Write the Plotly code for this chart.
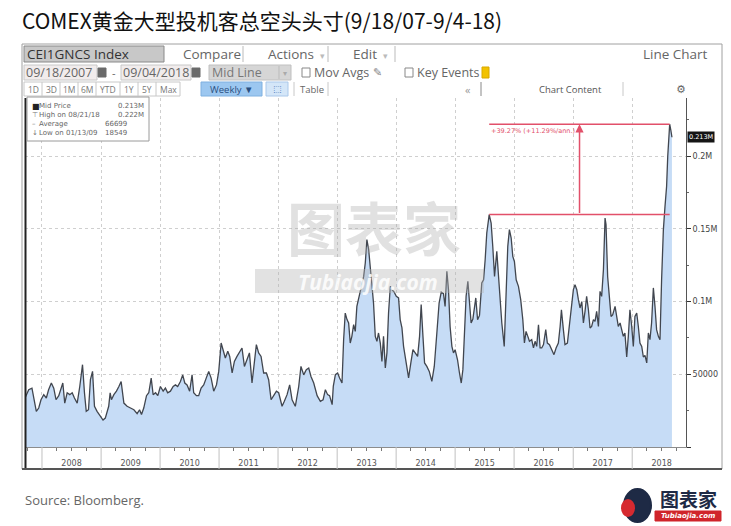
import plotly.graph_objects as go

# ---------------- data ----------------
DATES = [
"2007-09-18","2007-10-11","2007-10-31","2007-11-15","2007-11-27","2007-12-12","2007-12-26",
"2008-01-12","2008-01-28","2008-02-11","2008-02-28","2008-03-14","2008-03-28","2008-04-14","2008-04-24",
"2008-05-09","2008-05-21","2008-06-05","2008-06-21","2008-07-06","2008-07-20","2008-08-06","2008-08-22",
"2008-09-08","2008-09-20","2008-10-01","2008-10-15","2008-10-27","2008-11-09","2008-11-21","2008-12-07",
"2009-01-13","2009-01-27","2009-02-08","2009-02-17","2009-02-26","2009-03-06","2009-03-21","2009-04-06",
"2009-04-21","2009-05-05","2009-05-22","2009-06-11","2009-07-02","2009-07-23","2009-08-12","2009-08-27",
"2009-09-08","2009-09-22","2009-10-09","2009-10-23","2009-11-07","2009-11-19","2009-12-04","2009-12-18",
"2010-01-03","2010-01-20","2010-02-03","2010-02-17","2010-03-06","2010-03-23","2010-04-06","2010-04-20",
"2010-05-07","2010-05-21","2010-06-03","2010-06-17","2010-07-03","2010-07-18","2010-07-28","2010-08-14",
"2010-08-28","2010-09-12","2010-09-28","2010-10-15","2010-10-29","2010-11-13","2010-11-29","2010-12-16",
"2010-12-30","2011-01-14","2011-01-26","2011-02-09","2011-02-24","2011-03-08","2011-03-23","2011-04-06",
"2011-04-22","2011-05-09","2011-05-23","2011-06-07","2011-06-23","2011-07-08","2011-07-24","2011-08-08",
"2011-08-20","2011-09-03","2011-09-18","2011-10-04","2011-10-21","2011-11-04","2011-11-19","2011-12-05",
"2011-12-22","2012-01-05","2012-01-26","2012-02-09","2012-02-26","2012-03-13","2012-03-28","2012-04-17",
"2012-05-08","2012-05-22","2012-06-08","2012-06-24","2012-07-09","2012-07-23","2012-08-09","2012-08-30",
"2012-09-19","2012-10-06","2012-10-20","2012-11-03","2012-11-15","2012-12-01","2012-12-08","2012-12-21",
"2013-01-04","2013-01-16","2013-01-31","2013-02-10","2013-02-20","2013-03-03","2013-03-13","2013-03-23",
"2013-04-02","2013-04-13","2013-04-23","2013-05-03","2013-05-20","2013-06-03","2013-06-14","2013-06-24",
"2013-07-04","2013-07-15","2013-07-25","2013-08-04","2013-08-14","2013-08-25","2013-09-04","2013-09-14",
"2013-09-25","2013-10-05","2013-10-15","2013-10-26","2013-11-05","2013-11-15","2013-11-26","2013-12-06",
"2013-12-20","2014-01-02","2014-01-16","2014-01-26","2014-02-06","2014-02-16","2014-03-03","2014-03-19",
"2014-04-02","2014-04-15","2014-04-29","2014-05-14","2014-05-26","2014-06-05","2014-06-16","2014-06-26",
"2014-07-10","2014-07-25","2014-08-10","2014-08-25","2014-09-10","2014-09-24","2014-10-07","2014-10-21",
"2014-10-31","2014-11-11","2014-11-21","2014-12-01","2014-12-12","2014-12-22","2015-01-01","2015-01-16",
"2015-01-28","2015-02-08","2015-02-18","2015-02-28","2015-03-10","2015-03-21","2015-03-31","2015-04-10",
"2015-04-21","2015-05-01","2015-05-09","2015-05-20","2015-06-01","2015-06-15","2015-06-26","2015-07-06",
"2015-07-16","2015-07-31","2015-08-12","2015-08-22","2015-09-02","2015-09-16","2015-09-26","2015-10-07",
"2015-10-17","2015-11-01","2015-11-13","2015-11-23","2015-12-03","2015-12-14","2015-12-24","2016-01-03",
"2016-01-14","2016-01-28","2016-02-11","2016-02-24","2016-03-05","2016-03-15","2016-03-26","2016-04-05",
"2016-04-19","2016-04-30","2016-05-10","2016-05-20","2016-05-31","2016-06-10","2016-06-20","2016-07-01",
"2016-07-15","2016-07-25","2016-08-07","2016-08-21","2016-09-04","2016-09-17","2016-10-01","2016-10-12",
"2016-10-20","2016-11-01","2016-11-11","2016-11-26","2016-12-08","2016-12-21","2017-01-02","2017-01-12",
"2017-01-23","2017-02-02","2017-02-12","2017-02-23","2017-03-05","2017-03-15","2017-03-25","2017-04-05",
"2017-04-15","2017-04-25","2017-05-06","2017-05-16","2017-05-26","2017-06-06","2017-06-16","2017-06-26",
"2017-07-07","2017-07-17","2017-07-23","2017-08-02","2017-08-13","2017-08-23","2017-09-02","2017-09-17",
"2017-09-27","2017-10-07","2017-10-18","2017-10-28","2017-11-07","2017-11-17","2017-11-28","2017-12-08",
"2017-12-18","2017-12-29","2018-01-08","2018-01-18","2018-01-29","2018-02-08","2018-02-18","2018-03-01",
"2018-03-11","2018-03-21","2018-04-01","2018-04-11","2018-04-21","2018-05-01","2018-05-12","2018-05-22",
"2018-06-01","2018-06-12","2018-06-22","2018-07-02","2018-07-13","2018-07-23","2018-08-02","2018-08-09",
"2018-08-14","2018-08-21","2018-08-28","2018-09-04"]

VALUES_K = [
33.7,39.4,40.5,32.5,24.5,26.8,32.5,
36.0,33.7,39.4,44.0,40.5,32.5,35.3,38.4,
44.0,30.2,37.3,36.0,37.3,33.7,30.2,41.6,
56.6,37.3,24.5,25.6,46.3,52.0,28.0,24.5,
18.549,19.9,24.5,28.0,37.3,32.5,36.0,38.4,
41.6,45.0,30.2,28.0,26.8,25.6,23.0,25.6,
22.3,26.8,35.3,37.3,47.4,36.0,37.3,35.3,
41.6,38.4,40.5,37.3,38.4,41.6,42.7,41.6,
45.0,49.6,44.0,42.7,38.4,49.6,37.3,35.3,
35.3,40.5,42.7,48.5,52.0,47.4,38.4,42.7,
52.0,71.5,66.9,61.2,65.8,62.3,50.9,58.9,
62.3,65.8,68.1,55.4,60.0,64.7,44.0,60.0,
70.4,64.7,62.3,50.9,50.9,46.3,32.5,35.3,
38.4,37.3,28.0,31.4,36.0,42.7,32.5,28.0,
41.6,55.4,49.6,53.1,54.3,48.5,44.0,35.3,
31.4,32.5,39.4,36.0,35.3,29.1,41.7,49.7,
50.9,47.4,44.0,73.8,92.1,87.6,85.3,71.5,
76.1,84.1,79.5,96.7,104.8,112.8,117.3,126.5,
142.6,135.7,124.2,115.0,99.0,76.1,72.7,78.4,
71.5,58.9,76.1,54.3,64.7,92.1,110.5,108.2,
106.5,103.6,102.5,87.6,81.9,69.2,58.9,47.5,
57.8,66.9,64.7,62.3,76.1,97.9,76.1,57.8,
55.4,52.0,45.1,55.4,78.4,99.0,106.5,105.4,
96.7,120.8,108.2,82.9,69.2,64.7,66.9,60.0,
50.9,44.0,53.2,76.1,103.6,113.9,96.7,85.3,
88.0,95.6,102.5,87.6,90.5,112.8,115.0,128.8,
147.2,159.8,154.0,138.0,117.3,134.5,117.3,101.3,
85.3,69.2,103.6,138.0,149.5,143.7,131.1,127.6,
115.0,110.5,101.3,87.6,71.5,79.5,76.1,72.7,
73.8,68.1,72.7,69.2,84.1,68.1,68.1,70.4,
80.7,71.5,70.4,66.9,63.5,68.1,71.5,82.9,
94.4,80.7,70.4,71.5,82.9,96.7,108.2,111.6,
108.2,101.3,95.6,100.0,85.3,93.3,103.6,94.4,
81.8,82.9,87.6,86.4,93.3,82.9,107.0,103.6,
122.0,157.5,152.9,117.3,101.3,89.8,90.9,96.7,
89.8,82.9,85.3,79.5,76.1,78.4,61.9,76.1,
94.4,82.9,69.2,89.8,92.1,82.9,71.5,69.2,
61.9,63.0,57.8,78.4,73.8,85.3,109.4,96.7,
80.7,76.1,73.8,115.0,149.5,165.5,179.3,200.0,
212.0,222.0,218.0,213.0]

VALUES = [v * 1000 for v in VALUES_K]

YEARS = list(range(2008, 2019))
Y_TICKS = [0, 50000, 100000, 150000, 200000]
Y_LABELS = ["", "50000", "0.1M", "0.15M", "0.2M"]

TITLE = "COMEX黄金大型投机客总空头头寸(9/18/07-9/4-18)"
SOURCE = "Source: Bloomberg."
CHANGE_LABEL = "+39.27% (+11.29%/ann.)"
AVERAGE_LABEL = "66699"

# ---------------- layout geometry (pixels) ----------------
FW, FH = 731, 526
L, R, T, B = 25, 686, 98, 447
W, H = R - L, B - T
def px(x): return (x - L) / W
def py(y): return (B - y) / H

UI = "Open Sans"
fig = go.Figure()
fig.add_trace(go.Scatter(x=DATES, y=VALUES, mode="lines",
                         line=dict(color="#41464f", width=1.3),
                         fill="tozeroy", fillcolor="#c6dcf6", hoverinfo="skip"))

shapes = []
ann = []
def rect(x0, y0, x1, y1, fill="rgba(0,0,0,0)", line="#999", lw=1, layer="above"):
    shapes.append(dict(type="rect", xref="paper", yref="paper", x0=px(x0), x1=px(x1),
                       y0=py(y1), y1=py(y0), fillcolor=fill, line=dict(color=line, width=lw), layer=layer))
def hline(x0, x1, y, color="#bbb", lw=1):
    shapes.append(dict(type="line", xref="paper", yref="paper", x0=px(x0), x1=px(x1),
                       y0=py(y), y1=py(y), line=dict(color=color, width=lw)))
def vline(x, y0, y1, color="#bbb", lw=1):
    shapes.append(dict(type="line", xref="paper", yref="paper", x0=px(x), x1=px(x),
                       y0=py(y0), y1=py(y1), line=dict(color=color, width=lw)))
def text(x, y, s, size=12, color="#555", anchor="left", family=UI, **kw):
    ann.append(dict(xref="paper", yref="paper", x=px(x), y=py(y), text=s, showarrow=False,
                    xanchor=anchor, yanchor="middle", font=dict(size=size, color=color, family=family), **kw))

# title
text(20, 20, TITLE, size=21, color="#111", family="Noto Sans CJK SC")

# frame
rect(22, 44, 722, 469, line="#a0a0a0")
vline(25.5, 98, 469, color="#222", lw=2)
hline(22, 722, 469, color="#555", lw=2)

# toolbar row 1
rect(24, 46, 164, 62, fill="#c8c8c8", line="#8a8a8a")
text(25, 54.5, "CEI1GNCS Index", size=13.5, color="#333")
text(212, 54.5, "Compare", size=13.5, color="#666", anchor="center")
vline(243, 46, 62); vline(328, 46, 62); vline(395, 46, 62)
text(266, 54.5, "Actions", size=13.5, color="#666")
text(322, 55, "▾", size=9, color="#bbb", anchor="center")
text(351, 54.5, "Edit", size=13.5, color="#666")
text(385, 55, "▾", size=9, color="#bbb", anchor="center")
text(710, 54.5, "Line Chart", size=13.5, color="#666", anchor="right")

# toolbar row 2
rect(24, 65, 97, 80, fill="#f1ecec", line="#c8c8c8")
text(24, 72.5, "09/18/2007", size=12.5, color="#666")
rect(98, 68, 106, 77, fill="#6a6a6a", line="#6a6a6a")
text(114, 72.5, "-", size=11, color="#666", anchor="center")
rect(121, 65, 191, 80, fill="#f1ecec", line="#c8c8c8")
text(121, 72.5, "09/04/2018", size=12.5, color="#666")
rect(192, 68, 200, 77, fill="#6a6a6a", line="#6a6a6a")
rect(209, 65, 291, 80, fill="#d6d6d6", line="#c0c0c0")
text(210, 72.5, "Mid Line", size=12.5, color="#777")
vline(279, 66, 79, color="#bbb")
text(285, 73, "▾", size=8, color="#aaa", anchor="center")
rect(302, 68, 310, 77, fill="white", line="#888")
text(312, 72.5, "Mov Avgs", size=12.5, color="#666")
text(377, 72.5, "✎", size=11, color="#888", anchor="center", family="DejaVu Sans")
rect(405, 68, 413, 77, fill="white", line="#888")
text(415, 72.5, "Key Events", size=12.5, color="#666")
rect(482, 67, 489, 78, fill="#f2c200", line="#d9a800")

# toolbar row 3
BTN = ["1D", "3D", "1M", "6M", "YTD", "1Y", "5Y", "Max"]
EDGES = [24, 42, 60, 78, 96, 120, 138, 156, 180]
rect(24, 82, 180, 96, fill="white", line="#c8c8c8")
for i, b in enumerate(BTN):
    if i > 0:
        vline(EDGES[i], 82, 96, color="#c8c8c8")
    text((EDGES[i] + EDGES[i + 1]) / 2, 89, b, size=8.5, color="#777", anchor="center")
rect(201, 82, 262, 96, fill="#9cc7f0", line="#7fb0e0")
text(231, 89, "Weekly ▼", size=9.5, color="#2a4f80", anchor="center")
rect(266, 82, 288, 96, fill="#d4e6f8", line="#aac8ea")
text(277, 89, "⬚", size=9, color="#3b6fb0", anchor="center", family="DejaVu Sans")
vline(294, 82, 96, color="#c8c8c8")
text(298, 89, "Table", size=9.5, color="#666")
vline(328, 82, 96, color="#c8c8c8")
text(468, 89, "«", size=11, color="#999", anchor="center")
vline(481, 82, 96, color="#888")
text(570, 89, "Chart Content", size=9.5, color="#555", anchor="center")
vline(623, 82, 96, color="#c8c8c8")
text(681, 89, "⚙", size=11, color="#666", anchor="center", family="DejaVu Sans")

# info box
rect(27, 97, 149, 141, fill="white", line="#9a9a9a")
i_hi = max(range(len(VALUES)), key=lambda i: VALUES[i])
hi_date = DATES[i_hi]
hi_lbl = "%s/%s/%s" % (hi_date[5:7], hi_date[8:10], hi_date[2:4])
rows = [("■", "Mid Price", "%.3fM" % (VALUES[-1] / 1e6), 146),
        ("⊤", "High on " + hi_lbl, "%.3fM" % (VALUES[i_hi] / 1e6), 146),
        ("–", "Average", AVERAGE_LABEL, 129),
        ("↓", "Low on 01/13/09", "%d" % round(min(VALUES)), 129)]
for k, (sym, lab, val, xr) in enumerate(rows):
    yy = 106.5 + k * 8.7
    text(30, yy, sym, size=7 if k else 8, color="#222" if k == 0 else "#777", family="DejaVu Sans")
    text(37, yy, lab, size=7, color="#666", family="DejaVu Sans")
    text(xr, yy, val, size=7, color="#666", anchor="right", family="DejaVu Sans")

# watermark
text(374, 226, "<b>图表家</b>", size=58, color="rgba(165,165,165,0.33)", anchor="center", family="Noto Sans CJK SC")
rect(255, 269, 484, 293, fill="rgba(180,180,180,0.38)", line="rgba(0,0,0,0)")
text(368, 282, "<b><i>Tubiaojia.com</i></b>", size=21, color="rgba(255,255,255,0.85)", anchor="center", family="Open Sans")

# year separators in label band
for yv in YEARS:
    shapes.append(dict(type="line", xref="x", yref="paper", x0="%d-01-01" % yv, x1="%d-01-01" % yv,
                       y0=py(469), y1=0, line=dict(color="#c0c0c0", width=1)))

# red change annotation
i_prev = max([i for i, d in enumerate(DATES) if d < "2016-01-01"], key=lambda i: VALUES[i])
x_a, x_b = DATES[i_prev], DATES[i_hi]
RED = "#e2506a"
for yv in (VALUES[i_prev], VALUES[i_hi]):
    shapes.append(dict(type="line", xref="x", yref="y", x0=x_a, x1=x_b, y0=yv, y1=yv,
                       line=dict(color=RED, width=1.5)))
mid = "2017-02-09"
ann.append(dict(xref="x", yref="y", x=mid, y=VALUES[i_hi], ax=mid, ay=VALUES[i_prev],
                axref="x", ayref="y", showarrow=True, arrowhead=2, arrowsize=1.1, arrowwidth=1.5,
                arrowcolor=RED, text=""))
ann.append(dict(xref="x", yref="y", x=x_a, y=VALUES[i_hi], text=CHANGE_LABEL, showarrow=False,
                xanchor="left", yanchor="top", xshift=0, yshift=-1,
                font=dict(size=6.5, color=RED, family="DejaVu Sans")))

# last value tag
ann.append(dict(xref="paper", yref="y", x=1.0, y=VALUES[-1], xanchor="left", xshift=1,
                text="%.3fM" % (VALUES[-1] / 1e6), showarrow=False, bgcolor="#151515",
                borderpad=1, font=dict(size=6.5, color="white", family="DejaVu Sans")))

# source + logo
text(23, 500, SOURCE, size=13, color="#666")
shapes.append(dict(type="circle", xref="paper", yref="paper", x0=px(624), x1=px(651),
                   y0=py(522), y1=py(489), fillcolor="#1e2a45", line=dict(color="#1e2a45")))
shapes.append(dict(type="circle", xref="paper", yref="paper", x0=px(622), x1=px(634),
                   y0=py(516), y1=py(500), fillcolor="#d62a30", line=dict(color="#d62a30")))
text(688, 498, "<b>图表家</b>", size=19, color="#1e2a45", anchor="center", family="Noto Sans CJK SC")
rect(655, 511, 721, 521, fill="#d0252b", line="#d0252b")
text(688, 516, "<i><b>Tubiaojia.com</b></i>", size=7, color="white", anchor="center", family="DejaVu Sans")

fig.update_layout(
    width=FW, height=FH, margin=dict(l=L, r=FW - R, t=T, b=FH - B, autoexpand=False),
    paper_bgcolor="white", plot_bgcolor="white", showlegend=False,
    shapes=shapes, annotations=ann,
    xaxis=dict(type="date", range=["2007-09-18", "2018-11-30"], dtick="M12", tick0="2008-01-01",
               ticklabelmode="period", tickformat="%Y", showgrid=True, gridcolor="#cfcfcf",
               griddash="dot", ticks="", showline=True, linecolor="#8c8c8c", zeroline=False,
               tickfont=dict(size=8, color="#555", family="DejaVu Sans"), ticklabelstandoff=8,
               minor=dict(dtick="M3", tick0="2008-01-01", ticks="outside", ticklen=3,
                          tickcolor="#777", showgrid=False), fixedrange=True),
    yaxis=dict(side="right", range=[0, 240000], tickvals=Y_TICKS, ticktext=Y_LABELS,
               ticks="outside", ticklen=4, tickcolor="#333", showgrid=True, gridcolor="#cfcfcf",
               griddash="dot", showline=True, linecolor="#555", zeroline=False,
               tickfont=dict(size=8, color="#444", family="DejaVu Sans"),
               minor=dict(dtick=25000, ticks="outside", ticklen=2, tickcolor="#666"), fixedrange=True),
)
fig.write_html("out.html", config={"displayModeBar": False},
               post_script="document.body.style.margin='0px';")
